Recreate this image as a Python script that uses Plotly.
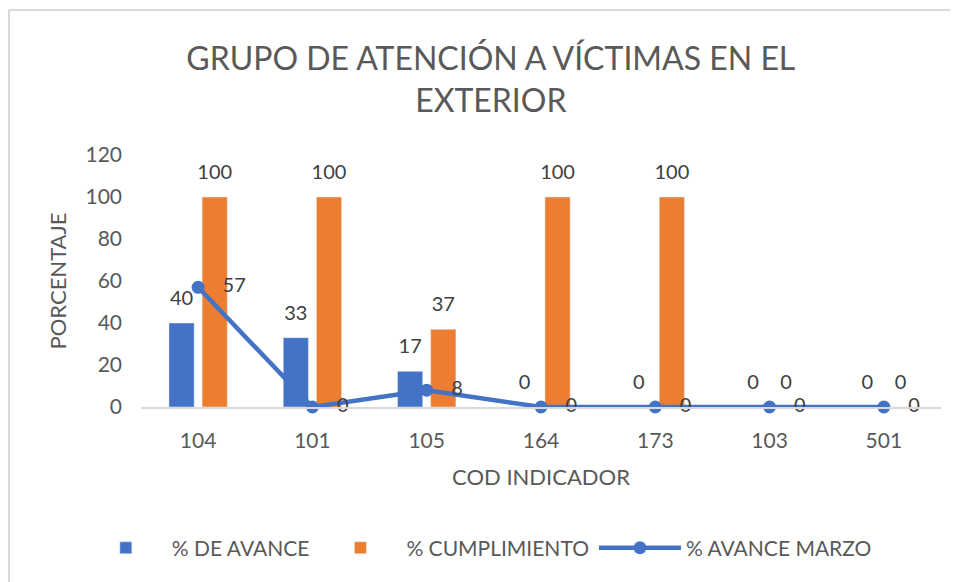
import plotly.graph_objects as go

categories = ["104", "101", "105", "164", "173", "103", "501"]
avance = [40, 33, 17, 0, 0, 0, 0]
cumplimiento = [100, 100, 37, 100, 100, 0, 0]
avance_marzo = [57, 0, 8, 0, 0, 0, 0]
y_ticks = [0, 20, 40, 60, 80, 100, 120]

FONT = "Lato"
TXT = "#404040"
LBL = "#595959"

# bar labels: number at 20px, a small blank second line adds a little padding
BAR_LABEL = "<span style='font-size:20px'>%{text}</span><br> "

fig = go.Figure()
fig.add_trace(go.Bar(
    x=categories, y=avance, name="% DE AVANCE",
    marker_color="#4472C4", text=avance, texttemplate=BAR_LABEL,
    textposition="outside", constraintext="none",
    textfont=dict(size=10, color=TXT, family=FONT), cliponaxis=False,
))
fig.add_trace(go.Bar(
    x=categories, y=cumplimiento, name="% CUMPLIMIENTO",
    marker_color="#ED7D31", text=cumplimiento, texttemplate=BAR_LABEL,
    textposition="outside", constraintext="none",
    textfont=dict(size=10, color=TXT, family=FONT), cliponaxis=False,
))
fig.add_trace(go.Scatter(
    x=categories, y=avance_marzo, name="% AVANCE MARZO",
    mode="lines+markers+text", line=dict(color="#4472C4", width=4.5),
    marker=dict(size=13, color="#4472C4"),
    text=avance_marzo, texttemplate="   %{text}", textposition="middle right",
    textfont=dict(size=20, color=TXT, family=FONT), cliponaxis=False,
))

fig.update_layout(
    width=958, height=582,
    paper_bgcolor="white", plot_bgcolor="white",
    margin=dict(l=133, r=25, t=147, b=183),
    barmode="group", bargap=0.42, bargroupgap=0.24,
    font=dict(family=FONT, color=LBL),
    title=dict(
        text="GRUPO DE ATENCIÓN A VÍCTIMAS EN EL<br>EXTERIOR",
        x=0.504, xref="container", xanchor="center",
        y=0.893, yref="container", yanchor="middle",
        font=dict(size=32, color=LBL, family=FONT),
    ),
    showlegend=True,
    legend=dict(
        orientation="h", x=0.075, xanchor="left", xref="container",
        y=0.072, yanchor="middle", yref="container",
        font=dict(size=21, color=LBL, family=FONT),
        traceorder="normal", itemwidth=82, entrywidth=0,
    ),
    xaxis=dict(
        showgrid=False, showline=True, linecolor="#d9d9d9", linewidth=2,
        tickfont=dict(size=21, color=LBL), ticks="", ticklabelstandoff=14,
        title=dict(text="COD INDICADOR", font=dict(size=22, color=LBL), standoff=18),
    ),
    yaxis=dict(
        range=[0, 120], tickvals=y_ticks, showgrid=False, zeroline=False,
        showline=False, tickfont=dict(size=21, color=LBL), ticklabelstandoff=18,
        title=dict(text="PORCENTAJE", font=dict(size=22, color=LBL), standoff=12),
    ),
    shapes=[
        dict(type="line", xref="paper", yref="paper", x0=-0.165, x1=1.05,
             y0=1.575, y1=1.575, line=dict(color="#d9d9d9", width=2)),
        dict(type="line", xref="paper", yref="paper", x0=-0.165, x1=-0.165,
             y0=1.575, y1=-0.8, line=dict(color="#d9d9d9", width=2)),
    ],
)

fig.write_html("out.html")
